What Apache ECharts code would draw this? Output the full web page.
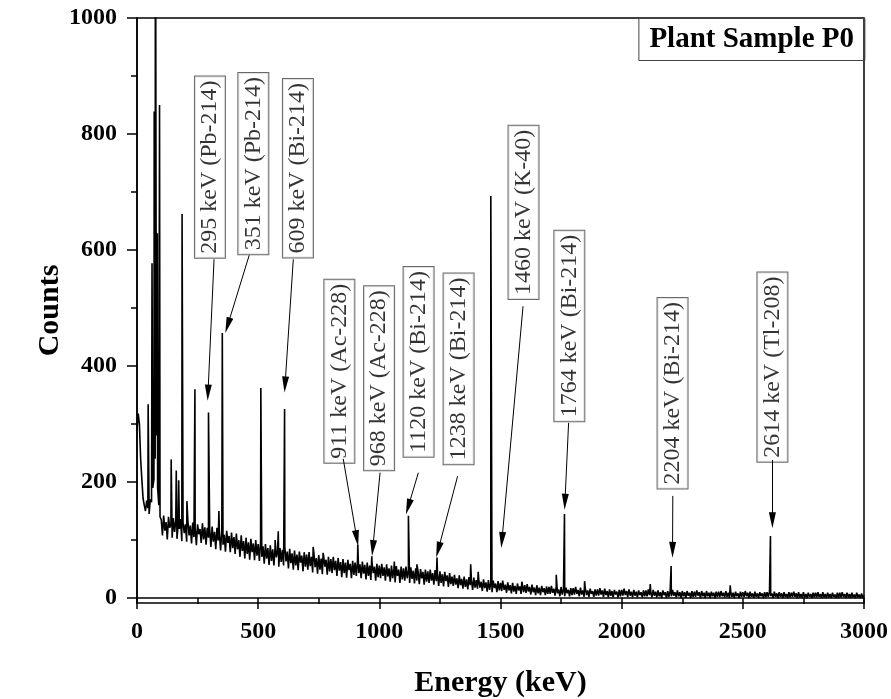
<!DOCTYPE html>
<html lang="en" style="height: 100%;margin: 0;background-color: #fff;">
<head>
    <meta charset="UTF-8">
    <title>Plant Sample P0</title>
</head>
<body style="height: 100%;margin: 0;background-color: #fff;">
<div id="chart" style="width: 891px;height: 699px;margin: 0;"></div>
<script src="https://cdn.jsdelivr.net/npm/echarts@6/dist/echarts.min.js"></script>
<script>
    // continuum counts, one value every 5 keV from 0 keV
    var contStep = 5;
    var contCounts = [
        290, 318, 300, 240, 205, 172, 160, 150, 168, 155, 145, 170, 165, 190, 205, 240, 280, 190, 160, 140,
        135, 108, 142, 116, 131, 101, 140, 121, 128, 104, 138, 114, 133, 102, 128, 119, 136, 98, 130, 112,
        127, 97, 133, 108, 125, 94, 130, 105, 121, 91, 127, 110, 119, 95, 129, 101, 122, 92, 121, 104,
        118, 88, 123, 97, 114, 84, 121, 99, 111, 82, 118, 92, 109, 80, 116, 95, 107, 79, 113, 86,
        105, 76, 111, 84, 100, 71, 108, 81, 98, 68, 104, 76, 96, 66, 102, 79, 94, 65, 100, 73,
        93, 64, 97, 71, 89, 59, 93, 68, 86, 57, 91, 64, 84, 56, 89, 70, 81, 54, 86, 62,
        83, 56, 88, 63, 80, 51, 85, 60, 77, 49, 82, 56, 75, 48, 80, 61, 73, 46, 79, 54,
        75, 49, 79, 55, 71, 44, 77, 53, 69, 42, 74, 49, 68, 41, 73, 54, 66, 40, 71, 46,
        67, 43, 71, 48, 64, 38, 69, 47, 62, 36, 67, 43, 61, 35, 66, 48, 59, 34, 64, 40,
        61, 38, 65, 43, 58, 34, 63, 42, 57, 32, 61, 38, 56, 31, 60, 43, 54, 30, 59, 36,
        56, 34, 59, 38, 53, 30, 58, 37, 51, 28, 56, 34, 51, 27, 55, 38, 49, 26, 54, 32,
        51, 30, 54, 34, 48, 26, 53, 33, 47, 25, 51, 30, 46, 24, 50, 34, 45, 23, 49, 28,
        46, 26, 49, 30, 43, 23, 48, 29, 42, 21, 46, 26, 41, 20, 45, 29, 39, 19, 43, 24,
        37, 21, 40, 23, 34, 17, 39, 22, 33, 16, 37, 19, 32, 15, 36, 22, 31, 14, 35, 18,
        31, 16, 33, 18, 28, 12, 32, 17, 27, 11, 31, 14, 26, 10, 30, 17, 25, 10, 29, 13,
        26, 12, 28, 14, 23, 9, 27, 13, 22, 8, 26, 11, 21, 7, 25, 13, 20, 7, 24, 10,
        22, 9, 24, 11, 19, 6, 23, 10, 18, 5, 22, 8, 18, 5, 21, 10, 17, 5, 20, 7,
        19, 7, 21, 9, 16, 4, 20, 8, 15, 3, 19, 6, 15, 3, 18, 8, 14, 3, 17, 5,
        17, 6, 19, 7, 14, 3, 18, 6, 13, 2, 17, 5, 13, 2, 16, 7, 12, 2, 15, 4,
        15, 4, 17, 6, 13, 2, 16, 5, 12, 1, 15, 4, 12, 1, 14, 6, 11, 1, 14, 3,
        14, 4, 16, 5, 12, 2, 15, 4, 11, 1, 14, 4, 11, 1, 13, 5, 10, 1, 13, 3,
        13, 3, 15, 5, 11, 1, 14, 4, 11, 1, 13, 3, 10, 0, 13, 5, 10, 0, 12, 2,
        12, 3, 14, 4, 10, 1, 13, 3, 10, 0, 12, 3, 10, 0, 12, 4, 9, 0, 12, 2,
        11, 2, 13, 4, 10, 0, 12, 3, 9, 0, 12, 3, 9, 0, 11, 3, 9, 0, 11, 2,
        11, 2, 12, 3, 9, 1, 12, 2, 9, 0, 11, 2, 9, 0, 11, 3, 8, 0, 11, 2,
        10, 2, 12, 3, 9, 0, 11, 2, 8, 0, 11, 2, 8, 0, 10, 3, 8, 0, 10, 1,
        10, 2, 11, 3, 8, 0, 11, 2, 8, 0, 10, 2, 8, 0, 10, 2, 7, 0, 10, 1,
        9, 2, 11, 2, 8, 0, 10, 1, 7, 0, 10, 1, 7, 0, 9, 2, 7, 0, 9, 1,
        9, 1, 10, 2, 7, 0, 10, 1, 7, 0, 9, 1, 7, 0, 9, 2, 6, 0, 9, 0,
        9, 1, 10, 2, 7, 0, 9, 1, 7, 0, 9, 1, 6, 0, 9, 1, 6, 0, 8, 0,
        5
    ];

    // photo peaks (keV, counts at the top)
    var peakEnergy = [46, 62, 71, 76, 84, 93, 141, 162, 172, 186, 206, 239, 295, 338, 352, 511, 570, 583, 609, 727, 768,
        911, 969, 1062, 1120, 1155, 1238, 1377, 1408, 1460, 1509, 1588, 1730, 1764, 1847, 2118, 2204, 2448, 2614];
    var peakCounts = [334, 577, 839, 1400, 629, 850, 239, 220, 203, 662, 167, 360, 320, 150, 457, 362, 100, 115, 326, 88, 78,
        92, 72, 63, 142, 58, 70, 58, 45, 693, 30, 28, 40, 145, 29, 24, 55, 22, 107];

    // peak labels
    var labelText = ["295 keV (Pb-214)", "351 keV (Pb-214)", "609 keV (Bi-214)", "911 keV (Ac-228)", "968 keV (Ac-228)",
        "1120 keV (Bi-214)", "1238 keV (Bi-214)", "1460 keV (K-40)", "1764 keV (Bi-214)", "2204 keV (Bi-214)", "2614 keV (Tl-208)"];
    // label box centres and arrow ends, in axis units
    var labelAt = [[301, 743], [480, 749], [664, 741], [835, 391], [999, 379], [1162, 407], [1327, 395], [1595, 665], [1784, 469], [2210, 353], [2622, 398]];
    var arrowFrom = [[318, 584], [463, 591], [645, 584], [851, 240], [1003, 216], [1161, 216], [1323, 210], [1593, 503], [1781, 302], [2211, 176], [2622, 238]];
    var arrowTo = [[293, 354], [374, 470], [611, 368], [907, 103], [973, 86], [1119, 157], [1243, 83], [1506, 100], [1766, 166], [2210, 83], [2622, 134]];

    var yMajorTicks = [0, 200, 400, 600, 800, 1000];
    var yMinorTicks = [100, 300, 500, 700, 900];

    var spectrum = [];
    for (var i = 0; i < contCounts.length; i++) {
        spectrum.push([i * contStep, contCounts[i]]);
    }
    for (var j = 0; j < peakEnergy.length; j++) {
        spectrum.push([peakEnergy[j], peakCounts[j]]);
    }
    spectrum.sort(function (a, b) { return a[0] - b[0]; });

    var labels = [];
    var arrows = [];
    for (var k = 0; k < labelText.length; k++) {
        labels.push({name: labelText[k], value: labelAt[k]});
        arrows.push([{coord: arrowFrom[k]}, {coord: arrowTo[k]}]);
    }

    var serif = "Liberation Serif";
    var plain = function (v) { return String(v); };
    var myChart = echarts.init(document.getElementById("chart"), null, {renderer: 'canvas'});
    var option = {
        animation: false,
        backgroundColor: '#fff',
        title: {
            text: "Plant Sample P0",
            right: 26,
            top: 18,
            padding: [7, 11],
            borderColor: '#444',
            borderWidth: 1,
            textStyle: {fontFamily: serif, fontWeight: 'bold', fontSize: 29, color: '#000'}
        },
        grid: {
            left: 137, right: 27, top: 18, bottom: 96,
            outerBoundsMode: 'none',
            show: true, borderColor: '#000', borderWidth: 1.5
        },
        xAxis: {
            type: 'value', min: 0, max: 3000, interval: 500,
            name: "Energy (keV)", nameLocation: 'middle', nameGap: 65, nameMoveOverlap: false,
            nameTextStyle: {fontFamily: serif, fontWeight: 'bold', fontSize: 30, color: '#000'},
            axisLine: {lineStyle: {color: '#000', width: 1.5}},
            axisTick: {inside: false, length: 11, lineStyle: {color: '#000', width: 1.5}},
            minorTick: {show: true, splitNumber: 2, length: 6, lineStyle: {color: '#000', width: 1.5}},
            axisLabel: {margin: 17, formatter: plain, fontFamily: serif, fontWeight: 'bold', fontSize: 24, color: '#000', showMaxLabel: true, showMinLabel: true},
            splitLine: {show: false}
        },
        yAxis: [{
            type: 'value', min: -8.62, max: 1000,
            name: "Counts", nameLocation: 'middle', nameGap: 72, nameMoveOverlap: false,
            nameTextStyle: {fontFamily: serif, fontWeight: 'bold', fontSize: 30, color: '#000'},
            axisLine: {lineStyle: {color: '#000', width: 1.5}},
            axisTick: {inside: false, length: 10, customValues: yMajorTicks, lineStyle: {color: '#000', width: 1.5}},
            axisLabel: {margin: 20, customValues: yMajorTicks, formatter: plain, fontFamily: serif, fontWeight: 'bold', fontSize: 24, color: '#000'},
            splitLine: {show: false}
        }, {
            type: 'value', min: -8.62, max: 1000, position: 'left',
            axisLine: {show: false},
            axisTick: {inside: false, length: 6, customValues: yMinorTicks, lineStyle: {color: '#000', width: 1.5}},
            axisLabel: {show: false},
            splitLine: {show: false}
        }],
        series: [{
            type: 'line',
            data: spectrum,
            symbol: 'none',
            clip: true,
            lineStyle: {color: '#000', width: 1.6},
            z: 3
        }, {
            type: 'scatter',
            data: labels,
            symbolSize: 0,
            z: 4,
            label: {
                show: true, position: 'inside', rotate: 90,
                formatter: '{b}',
                fontFamily: serif, fontSize: 24, color: '#000',
                backgroundColor: '#fff', borderColor: '#444', borderWidth: 1, padding: [3, 4]
            },
            markLine: {
                silent: true,
                symbol: ['none', 'triangle'],
                symbolSize: [7, 16],
                label: {show: false},
                lineStyle: {color: '#000', width: 1, type: 'solid'},
                data: arrows
            }
        }]
    };
    myChart.setOption(option);
</script>
</body>
</html>
